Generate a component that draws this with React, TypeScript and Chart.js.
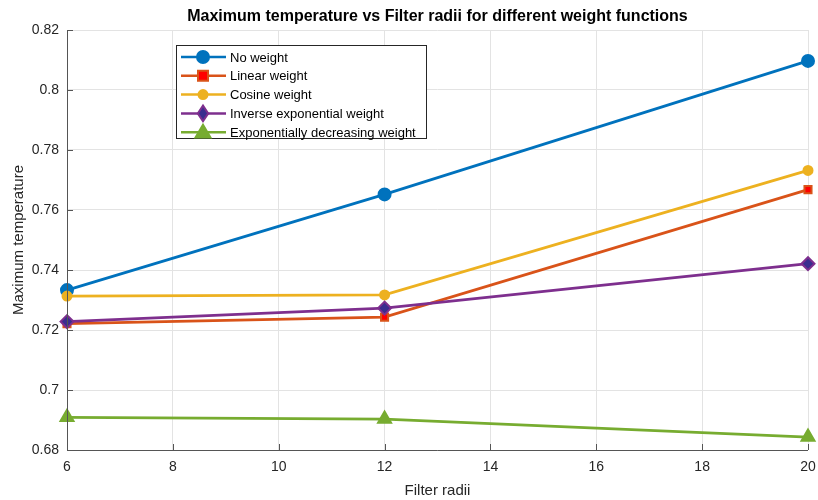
import React, { useEffect, useRef } from "react";
import { Chart, registerables } from "chart.js";

Chart.register(...registerables);

const radii = [6, 12, 20];
const noWeight = [0.7333, 0.7652, 0.8097];
const linearWeight = [0.7221, 0.7243, 0.7668];
const cosineWeight = [0.7313, 0.7317, 0.7732];
const invExpWeight = [0.7228, 0.7273, 0.7421];
const expDecWeight = [0.6909, 0.6903, 0.6843];
const seriesNames = [
  "No weight",
  "Linear weight",
  "Cosine weight",
  "Inverse exponential weight",
  "Exponentially decreasing weight",
];
const xTicks = [6, 8, 10, 12, 14, 16, 18, 20];
const yTicks = [0.68, 0.7, 0.72, 0.74, 0.76, 0.78, 0.8, 0.82];

const FONT = "'Liberation Sans', Arial, sans-serif";

const styles = [
  { color: "#0072BD", fill: "#0072BD", shape: "circle", r: 6 },
  { color: "#D95319", fill: "#FF0000", shape: "rect", r: 5 },
  { color: "#EDB120", fill: "#EDB120", shape: "circle", r: 4.5 },
  { color: "#7E2F8E", fill: "#3A2D8F", shape: "rectRot", r: 6.5 },
  { color: "#77AC30", fill: "#77AC30", shape: "triangle", r: 7.5 },
];

function drawMarker(ctx: CanvasRenderingContext2D, shape: string, x: number, y: number, r: number, stroke: string, fill: string) {
  ctx.save();
  ctx.beginPath();
  if (shape === "circle") {
    ctx.arc(x, y, r, 0, Math.PI * 2);
  } else if (shape === "rect") {
    ctx.rect(x - r, y - r, 2 * r, 2 * r);
  } else if (shape === "rectRot") {
    ctx.moveTo(x, y - r * 1.2);
    ctx.lineTo(x + r * 0.8, y);
    ctx.lineTo(x, y + r * 1.2);
    ctx.lineTo(x - r * 0.8, y);
    ctx.closePath();
  } else if (shape === "triangle") {
    ctx.moveTo(x, y - r);
    ctx.lineTo(x + r, y + r * 0.7);
    ctx.lineTo(x - r, y + r * 0.7);
    ctx.closePath();
  }
  ctx.fillStyle = fill;
  ctx.fill();
  ctx.lineWidth = 2;
  ctx.strokeStyle = stroke;
  ctx.stroke();
  ctx.restore();
}

const legendPlugin = {
  id: "matlabLegend",
  afterDatasetsDraw(chart: any) {
    const ctx: CanvasRenderingContext2D = chart.ctx;
    const x0 = 176, y0 = 45, w = 250, h = 93;
    ctx.save();
    ctx.fillStyle = "#ffffff";
    ctx.fillRect(x0, y0, w, h);
    ctx.strokeStyle = "#262626";
    ctx.lineWidth = 1;
    ctx.strokeRect(x0 + 0.5, y0 + 0.5, w, h);
    ctx.font = `13px ${FONT}`;
    ctx.textBaseline = "middle";
    for (let i = 0; i < seriesNames.length; i++) {
      const yy = y0 + 12 + i * 18.8;
      const s = styles[i];
      ctx.strokeStyle = s.color;
      ctx.lineWidth = 2.5;
      ctx.beginPath();
      ctx.moveTo(181, yy);
      ctx.lineTo(226, yy);
      ctx.stroke();
      drawMarker(ctx, s.shape, 203, yy, s.r, s.color, s.fill);
      ctx.fillStyle = "#000000";
      ctx.fillText(seriesNames[i], 230, yy + 1);
    }
    ctx.restore();
  },
};

const frameTicksPlugin = {
  id: "frameTicks",
  afterDraw(chart: any) {
    const ctx: CanvasRenderingContext2D = chart.ctx;
    const { left, right, top, bottom } = chart.chartArea;
    const xs = chart.scales.x;
    const ys = chart.scales.y;
    ctx.save();
    ctx.strokeStyle = "#555555";
    ctx.lineWidth = 1;
    ctx.beginPath();
    for (const t of xTicks) {
      const px = Math.round(xs.getPixelForValue(t)) + 0.5;
      ctx.moveTo(px, bottom);
      ctx.lineTo(px, bottom - 6);
    }
    for (const t of yTicks) {
      const py = Math.round(ys.getPixelForValue(t)) + 0.5;
      ctx.moveTo(left, py);
      ctx.lineTo(left + 6, py);
    }
    ctx.stroke();
    ctx.beginPath();
    ctx.moveTo(left + 0.5, top);
    ctx.lineTo(left + 0.5, bottom + 0.5);
    ctx.lineTo(right, bottom + 0.5);
    ctx.stroke();
    ctx.restore();
  },
};

export default function App() {
  const ref = useRef<HTMLCanvasElement>(null);
  useEffect(() => {
    if (!ref.current) return;
    const series = [noWeight, linearWeight, cosineWeight, invExpWeight, expDecWeight];
    const chart = new Chart(ref.current, {
      type: "line",
      data: {
        datasets: series.map((vals, i) => ({
          label: seriesNames[i],
          data: vals.map((v, j) => ({ x: radii[j], y: v })),
          borderColor: styles[i].color,
          backgroundColor: styles[i].fill,
          pointBorderColor: styles[i].color,
          pointBackgroundColor: styles[i].fill,
          pointStyle: styles[i].shape as any,
          pointRadius: styles[i].r,
          pointBorderWidth: 2,
          borderWidth: 2.8,
          tension: 0,
          order: 5 - i,
          clip: false as any,
        })),
      },
      options: {
        animation: false,
        responsive: false,
        events: [],
        layout: { padding: { left: 0, right: 10, top: 30, bottom: 0 } },
        plugins: {
          legend: { display: false },
          tooltip: { enabled: false },
          title: { display: false },
        },
        scales: {
          x: {
            type: "linear",
            min: 6,
            max: 20,
            afterBuildTicks: (s: any) => {
              s.ticks = xTicks.map((v) => ({ value: v }));
            },
            afterFit: (s: any) => {
              s.height = 50;
              s.paddingLeft = 0;
              s.paddingRight = 0;
            },
            grid: { color: "#e3e3e3", drawTicks: false, tickLength: 0, lineWidth: 1 },
            border: { display: false },
            ticks: {
              padding: 9,
              color: "#262626",
              font: { family: FONT, size: 14 },
              callback: (v: any) => String(v),
              maxRotation: 0,
            },
            title: {
              display: true,
              text: "Filter radii",
              color: "#262626",
              font: { family: FONT, size: 15 },
              padding: { top: 0, bottom: 0 },
            },
          },
          y: {
            type: "linear",
            min: 0.68,
            max: 0.82,
            afterBuildTicks: (s: any) => {
              s.ticks = yTicks.map((v) => ({ value: v }));
            },
            afterFit: (s: any) => {
              s.width = 67;
              s.paddingTop = 0;
              s.paddingBottom = 0;
            },
            grid: { color: "#e3e3e3", drawTicks: false, tickLength: 0, lineWidth: 1 },
            border: { display: false },
            ticks: {
              padding: 8,
              color: "#262626",
              font: { family: FONT, size: 14 },
              callback: (v: any) => {
                const n = Math.round(Number(v) * 100) / 100;
                return String(n);
              },
            },
            title: {
              display: true,
              text: "Maximum temperature",
              color: "#262626",
              font: { family: FONT, size: 15 },
              padding: { top: 10, bottom: 6 },
            },
          },
        },
      },
      plugins: [
        frameTicksPlugin,
        legendPlugin,
        {
          id: "matlabTitle",
          afterDraw(chart: any) {
            const ctx = chart.ctx;
            const { left, right } = chart.chartArea;
            ctx.save();
            ctx.font = `bold 16px ${FONT}`;
            ctx.fillStyle = "#000000";
            ctx.textAlign = "center";
            ctx.textBaseline = "middle";
            ctx.fillText("Maximum temperature vs Filter radii for different weight functions", (left + right) / 2, 17);
            ctx.restore();
          },
        },
      ],
    });
    return () => chart.destroy();
  }, []);
  return (
    <div style={{ position: "fixed", left: 0, top: 0, width: 818, height: 500, background: "#fff" }}>
      <canvas ref={ref} width={818} height={500} />
    </div>
  );
}
